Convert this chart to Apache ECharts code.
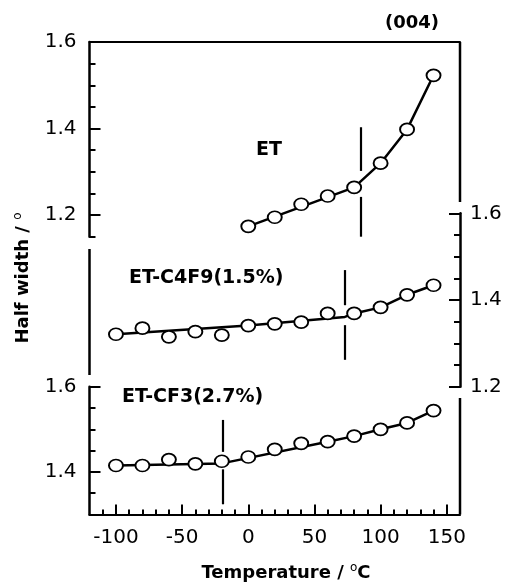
<!DOCTYPE html>
<html>
<head>
<meta charset="utf-8">
<script src="https://cdn.jsdelivr.net/npm/echarts@6/dist/echarts.min.js"></script>
<style>
  html, body { margin: 0; padding: 0; background: #fff; }
  #chart { width: 505px; height: 585px; }
</style>
</head>
<body>
<div id="chart"></div>
<script>
// Temperatures (°C) at which the (004) half width was measured
const temps = [-100, -80, -60, -40, -20, 0, 20, 40, 60, 80, 100, 120, 140];
const etTemps = [0, 20, 40, 60, 80, 100, 120, 140];

// Half width (°) of the (004) reflection
const etWidth   = [1.174, 1.195, 1.225, 1.244, 1.264, 1.320, 1.398, 1.523];
const c4f9Width = [1.321, 1.335, 1.315, 1.327, 1.319, 1.341, 1.345, 1.349, 1.369, 1.369, 1.383, 1.412, 1.434];
const cf3Width  = [1.415, 1.415, 1.429, 1.419, 1.425, 1.435, 1.453, 1.467, 1.471, 1.484, 1.500, 1.515, 1.544];

// Guide lines drawn through each data set
const etFitT   = [0, 80, 100, 120, 140];
const etFitW   = [1.174, 1.264, 1.320, 1.398, 1.523];
const c4f9FitT = [-100, 0, 73, 80, 100, 120, 140];
const c4f9FitW = [1.321, 1.341, 1.361, 1.369, 1.383, 1.412, 1.434];
const cf3FitT  = [-100, -20, 60, 80, 100, 120, 140];
const cf3FitW  = [1.415, 1.420, 1.471, 1.484, 1.500, 1.515, 1.544];

// Transition temperatures, each marked by a broken vertical bar
const etTc = 85, c4f9Tc = 73, cf3Tc = -19;
const etBar   = [[1.403, 1.302], [1.242, 1.15]];
const c4f9Bar = [[1.469, 1.388], [1.342, 1.262]];
const cf3Bar  = [[1.522, 1.447], [1.406, 1.324]];

// Axis ranges and tick labels
const tRange = [-120, 160];
const tLabels = [-100, -50, 0, 50, 100, 150];
const etRange = [1.15, 1.6],   etLabels = [1.2, 1.4, 1.6];
const c4f9Range = [1.2, 1.6],  c4f9Labels = [1.2, 1.4, 1.6];
const cf3Range = [1.3, 1.6],   cf3Labels = [1.4, 1.6];

// layout (px)
const PL = 89.5, PR = 460, PW = PR - PL;

function steps(from, to, step) {
  const out = [];
  for (let v = from; v <= to + 1e-9; v += step) out.push(Math.round(v * 1000) / 1000);
  return out;
}

const INK = '#000';
const TICK_FONT = { fontFamily: 'DejaVu Sans', fontSize: 20, color: INK };

function yMajor(gridIndex, position, range, ticks) {
  return {
    type: 'value', gridIndex, position, min: range[0], max: range[1],
    axisLine: { show: true, onZero: false, lineStyle: { color: INK, width: 2.5 } },
    axisTick: { show: true, inside: true, length: 11, customValues: ticks, lineStyle: { color: INK, width: 2 } },
    axisLabel: Object.assign({ show: true, customValues: ticks, margin: position === 'left' ? 13 : 10,
      formatter: v => v.toFixed(1) }, TICK_FONT),
    splitLine: { show: false }
  };
}
function yMinor(gridIndex, position, range) {
  return {
    type: 'value', gridIndex, position, min: range[0], max: range[1],
    axisLine: { show: false, onZero: false },
    axisTick: { show: true, inside: true, length: 6, customValues: steps(range[0], range[1], 0.05),
      lineStyle: { color: INK, width: 2 } },
    axisLabel: { show: false },
    splitLine: { show: false }
  };
}

function points(xs, ys) { return xs.map((x, i) => [x, ys[i]]); }
function bars(tc, segs) {
  return segs.map(s => [{ coord: [tc, s[0]] }, { coord: [tc, s[1]] }]);
}

function fitSeries(idx, xs, ys, tc, segs) {
  return {
    type: 'line', xAxisIndex: idx.x, yAxisIndex: idx.y,
    data: points(xs, ys), symbol: 'none', silent: true,
    lineStyle: { color: INK, width: 2.5 }, z: 2,
    markLine: {
      silent: true, symbol: 'none', label: { show: false },
      lineStyle: { color: INK, width: 2.2, type: 'solid' },
      data: bars(tc, segs)
    }
  };
}
function dotSeries(idx, xs, ys) {
  return {
    type: 'scatter', xAxisIndex: idx.x, yAxisIndex: idx.y,
    data: points(xs, ys), symbol: 'circle', symbolSize: [14, 12],
    itemStyle: { color: '#fff', borderColor: INK, borderWidth: 1.8, opacity: 1 }, z: 3
  };
}

const chart = echarts.init(document.getElementById('chart'), null, { renderer: 'canvas' });

const line = (x1, y1, x2, y2) => ({
  type: 'line', shape: { x1, y1, x2, y2 }, style: { stroke: INK, lineWidth: 2.5 }, silent: true
});
const label = (text, x, y, size, align) => ({
  type: 'text', x, y, silent: true,
  style: { text, fill: INK, font: 'bold ' + size + 'px "DejaVu Sans"',
    textAlign: align || 'left', textVerticalAlign: 'middle' }
});
const titleRich = {
  b: { fontFamily: 'DejaVu Sans', fontWeight: 'bold', fontSize: 18, lineHeight: 22, fill: INK, color: INK },
  s: { fontFamily: 'DejaVu Sans', fontSize: 12, lineHeight: 22, verticalAlign: 'top', fill: INK, color: INK }
};

chart.setOption({
  animation: false,
  backgroundColor: '#fff',
  grid: [
    { left: PL, width: PW, top: 42, height: 194.7 },
    { left: PL, width: PW, top: 213.3, height: 173.4 },
    { left: PL, width: PW, top: 386.7, height: 127.8 }
  ],
  xAxis: [
    { type: 'value', gridIndex: 0, position: 'top', min: tRange[0], max: tRange[1],
      axisLine: { show: true, onZero: false, lineStyle: { color: INK, width: 2 } },
      axisTick: { show: false }, axisLabel: { show: false }, splitLine: { show: false } },
    { type: 'value', gridIndex: 1, min: tRange[0], max: tRange[1], show: false },
    { type: 'value', gridIndex: 2, position: 'bottom', min: tRange[0], max: tRange[1],
      axisLine: { show: true, onZero: false, lineStyle: { color: INK, width: 2.2 } },
      axisTick: { show: true, inside: true, length: 10, customValues: tLabels, lineStyle: { color: INK, width: 2 } },
      axisLabel: Object.assign({ show: true, customValues: tLabels, margin: 13 }, TICK_FONT),
      splitLine: { show: false } },
    { type: 'value', gridIndex: 2, position: 'bottom', min: tRange[0], max: tRange[1],
      axisLine: { show: false, onZero: false },
      axisTick: { show: true, inside: true, length: 5, customValues: steps(-110, 150, 10), lineStyle: { color: INK, width: 2 } },
      axisLabel: { show: false }, splitLine: { show: false } }
  ],
  yAxis: [
    yMajor(0, 'left', etRange, etLabels),
    yMinor(0, 'left', etRange),
    yMajor(1, 'right', c4f9Range, c4f9Labels),
    yMinor(1, 'right', c4f9Range),
    yMajor(2, 'left', cf3Range, cf3Labels),
    yMinor(2, 'left', cf3Range)
  ],
  series: [
    fitSeries({ x: 0, y: 0 }, etFitT, etFitW, etTc, etBar),
    dotSeries({ x: 0, y: 0 }, etTemps, etWidth),
    fitSeries({ x: 1, y: 2 }, c4f9FitT, c4f9FitW, c4f9Tc, c4f9Bar),
    dotSeries({ x: 1, y: 2 }, temps, c4f9Width),
    fitSeries({ x: 2, y: 4 }, cf3FitT, cf3FitW, cf3Tc, cf3Bar),
    dotSeries({ x: 2, y: 4 }, temps, cf3Width)
  ],
  graphic: [
    // open frame pieces between the stacked panels
    line(PR, 42, PR, 202),
    line(PL, 249, PL, 375),
    line(PR, 398, PR, 514.5),
    label('(004)', 412, 23, 18, 'center'),
    label('ET', 256, 150, 19),
    label('ET-C4F9(1.5%)', 129, 278, 19),
    label('ET-CF3(2.7%)', 122, 397, 19),
    {
      type: 'text', x: 23, y: 278, rotation: Math.PI / 2, silent: true,
      style: { text: '{b|Half width / }{s|o}', textAlign: 'center', textVerticalAlign: 'middle', rich: titleRich }
    },
    {
      type: 'text', x: 286, y: 573, silent: true,
      style: { text: '{b|Temperature / }{s|o}{b|C}', textAlign: 'center', textVerticalAlign: 'middle', rich: titleRich }
    }
  ]
});
</script>
</body>
</html>
